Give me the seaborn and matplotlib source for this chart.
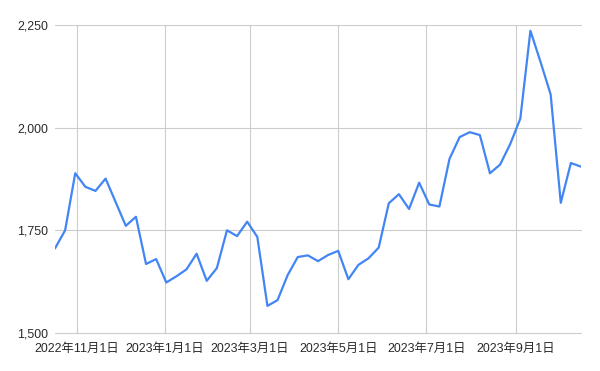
import matplotlib
matplotlib.use("Agg")
import matplotlib.pyplot as plt
import matplotlib.dates as mdates
import matplotlib.ticker as mticker
import seaborn as sns
import pandas as pd

dates = [
    "2022-10-17", "2022-10-24", "2022-10-31", "2022-11-07", "2022-11-14", "2022-11-21",
    "2022-12-05", "2022-12-12", "2022-12-19", "2022-12-26",
    "2023-01-02", "2023-01-09", "2023-01-16", "2023-01-23", "2023-01-30",
    "2023-02-06", "2023-02-13", "2023-02-20", "2023-02-27",
    "2023-03-06", "2023-03-13", "2023-03-20", "2023-03-27",
    "2023-04-03", "2023-04-10", "2023-04-17", "2023-04-24",
    "2023-05-01", "2023-05-08", "2023-05-15", "2023-05-22", "2023-05-29",
    "2023-06-05", "2023-06-12", "2023-06-19", "2023-06-26",
    "2023-07-03", "2023-07-10", "2023-07-17", "2023-07-24", "2023-07-31",
    "2023-08-07", "2023-08-14", "2023-08-21", "2023-08-28",
    "2023-09-04", "2023-09-11", "2023-09-18", "2023-09-25",
    "2023-10-02", "2023-10-09", "2023-10-16",
]
values = [
    1706, 1750, 1889, 1856, 1846, 1876,
    1761, 1783, 1668, 1680,
    1623, 1638, 1655, 1693, 1627,
    1658, 1750, 1736, 1771,
    1734, 1566, 1580, 1641,
    1685, 1689, 1675, 1690,
    1700, 1631, 1666, 1682, 1708,
    1816, 1838, 1802, 1866,
    1813, 1808, 1924, 1977, 1989,
    1982, 1889, 1910, 1960,
    2022, 2236, 2160, 2081,
    1817, 1914, 1905,
]
x_ticks = ["2022-11-01", "2023-01-01", "2023-03-01", "2023-05-01", "2023-07-01", "2023-09-01"]
y_ticks = [1500, 1750, 2000, 2250]

df = pd.DataFrame({"date": pd.to_datetime(dates), "value": values})

sns.set_style("white")
plt.rcParams["font.family"] = ["Liberation Sans", "Noto Sans CJK JP"]

fig = plt.figure(figsize=(6, 3.71), dpi=100)
ax = fig.add_axes([55 / 600, 38 / 371, 526 / 600, 308 / 371])

sns.lineplot(data=df, x="date", y="value", ax=ax, color="#4285F4", linewidth=1.6, zorder=3)

ax.set_xlim(df["date"].iloc[0], df["date"].iloc[-1])
ax.set_ylim(y_ticks[0], y_ticks[-1])
ax.set_yticks(y_ticks)
ax.yaxis.set_major_formatter(mticker.FuncFormatter(lambda v, p: f"{int(v):,}"))
xt = pd.to_datetime(x_ticks)
ax.set_xticks(xt)
ax.set_xticklabels([f"{d.year}年{d.month}月{d.day}日" for d in xt])

ax.grid(True, color="#cccccc", linewidth=0.8)
for gl in ax.get_xgridlines() + ax.get_ygridlines():
    gl.set_clip_on(False)
for s in ax.spines.values():
    s.set_visible(False)
ax.tick_params(axis="both", length=0, labelsize=8.9, colors="#2a2a2a")
ax.tick_params(axis="y", pad=5)
ax.tick_params(axis="x", pad=7.5)
ax.set_xlabel("")
ax.set_ylabel("")

fig.savefig("out.png", dpi=100)
